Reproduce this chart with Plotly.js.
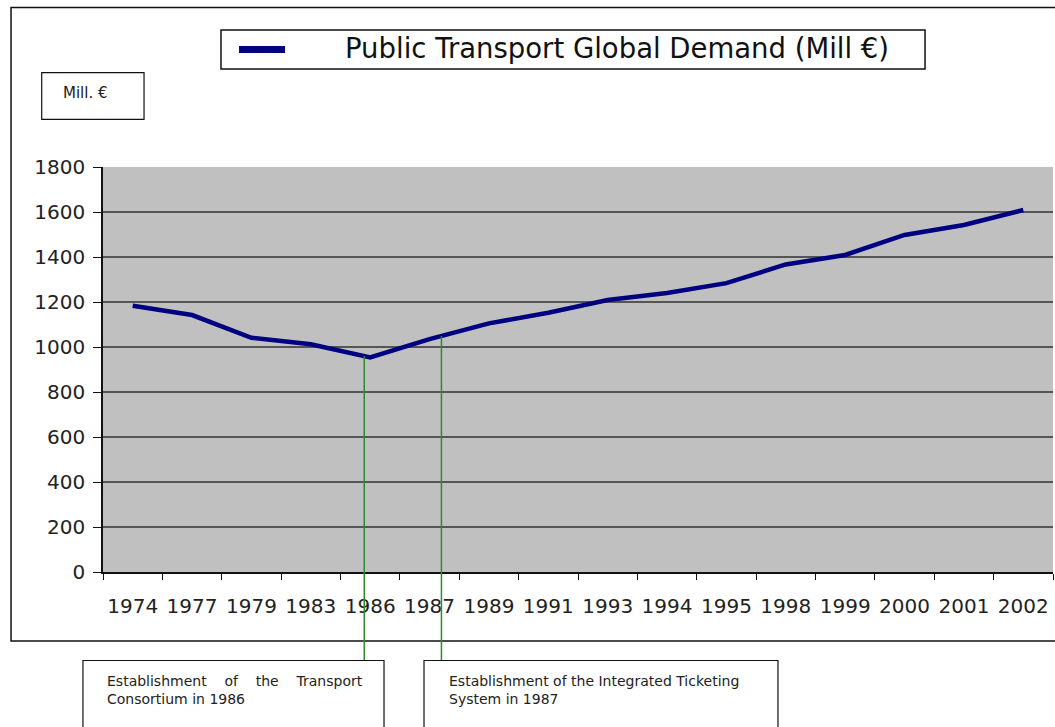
<!DOCTYPE html>
<html>
<head>
<meta charset="utf-8">
<script src="https://cdn.plot.ly/plotly-3.0.1.min.js"></script>
<style>
  html, body { margin: 0; padding: 0; background: #ffffff; }
  #chart { width: 1055px; height: 727px; }
</style>
</head>
<body>
<div id="chart"></div>
<script>
// ---- Data ----
const years = ['1974','1977','1979','1983','1986','1987','1989','1991','1993','1994','1995','1998','1999','2000','2001','2002'];
const demand = [1183, 1142, 1041, 1012, 954, 1035, 1105, 1152, 1209, 1240, 1284, 1367, 1409, 1498, 1542, 1609];
const seriesName = 'Public Transport Global Demand (Mill €)';
const yTicks = [0, 200, 400, 600, 800, 1000, 1200, 1400, 1600, 1800];
const unitLabel = 'Mill. €';
const events = [
  { year: '1986', offset: -0.1, text: 'Establishment&nbsp;&nbsp;&nbsp; of&nbsp;&nbsp;&nbsp; the&nbsp;&nbsp;&nbsp; Transport<br>Consortium in 1986' },
  { year: '1987', offset: 0.2,  text: 'Establishment of the Integrated Ticketing<br>System in 1987' }
];

const yMax = 1800;
const font = 'DejaVu Sans, Arial, sans-serif';
const lineColor = '#000080';

// value of the series at a fractional category position (to end the marker lines on the curve)
function valueAt(pos) {
  const i = Math.max(0, Math.min(years.length - 2, Math.floor(pos)));
  const f = pos - i;
  return demand[i] + (demand[i + 1] - demand[i]) * f;
}

const trace = {
  type: 'scatter',
  mode: 'lines',
  x: years,
  y: demand,
  name: seriesName,
  line: { color: lineColor, width: 4.5 },
  showlegend: false,
  hoverinfo: 'x+y'
};

const shapes = [];
const annotations = [];

// outer chart frame
shapes.push({ type: 'rect', xref: 'paper', yref: 'paper', x0: -0.0968, x1: 1.0074, y0: -0.1704, y1: 1.3938,
  line: { color: '#111111', width: 1.5 }, fillcolor: 'rgba(0,0,0,0)', layer: 'below' });

// legend box (series key)
shapes.push({ type: 'rect', xref: 'paper', yref: 'paper', x0: 0.1242, x1: 0.8653, y0: 1.2420, y1: 1.3383,
  line: { color: '#111111', width: 1.5 }, fillcolor: '#ffffff' });
shapes.push({ type: 'line', xref: 'paper', yref: 'paper', x0: 0.1432, x1: 0.1916, y0: 1.2900, y1: 1.2900,
  line: { color: lineColor, width: 7 } });
annotations.push({ xref: 'paper', yref: 'paper', x: 0.2527, y: 1.2950, xanchor: 'left', yanchor: 'middle',
  text: seriesName, showarrow: false, font: { family: font, size: 27.5, color: '#111111' } });

// unit box
shapes.push({ type: 'rect', xref: 'paper', yref: 'paper', x0: -0.0645, x1: 0.0432, y0: 1.1178, y1: 1.2328,
  line: { color: '#111111', width: 1.2 }, fillcolor: '#ffffff' });
annotations.push({ xref: 'paper', yref: 'paper', x: -0.0184, y: 1.1827, xanchor: 'center', yanchor: 'middle',
  text: unitLabel, showarrow: false, font: { family: font, size: 15, color: '#222222' } });

// event marker lines and text boxes
const boxes = [
  { x0: -0.0211, x1: 0.2958, tx: 0.0021 },
  { x0: 0.3379, x1: 0.7105, tx: 0.3621 }
];
events.forEach((ev, k) => {
  const pos = years.indexOf(ev.year) + ev.offset;
  const v = valueAt(pos);
  shapes.push({ type: 'line', xref: 'x', yref: 'paper', x0: pos, x1: pos, y0: -0.2185, y1: v / yMax,
    line: { color: '#2f8a2f', width: 1.5 }, layer: 'above' });
  const b = boxes[k];
  shapes.push({ type: 'rect', xref: 'paper', yref: 'paper', x0: b.x0, x1: b.x1, y0: -0.45, y1: -0.2185,
    line: { color: '#111111', width: 1.2 }, fillcolor: '#ffffff' });
  annotations.push({ xref: 'paper', yref: 'paper', x: b.tx, y: -0.244, xanchor: 'left', yanchor: 'top', align: 'left',
    text: ev.text, showarrow: false, font: { family: font, size: 14, color: '#222222' } });
});

const layout = {
  width: 1055,
  height: 727,
  margin: { l: 103, r: 2, t: 167, b: 155 },
  paper_bgcolor: '#ffffff',
  plot_bgcolor: '#c0c0c0',
  font: { family: font, color: '#222222' },
  showlegend: false,
  xaxis: {
    type: 'category',
    categoryorder: 'array',
    categoryarray: years,
    range: [-0.5, years.length - 0.5],
    tickson: 'boundaries',
    tickangle: 0,
    ticks: 'outside', ticklen: 6, tickwidth: 1, tickcolor: '#111111',
    showgrid: false,
    showline: true, linecolor: '#111111', linewidth: 1.5,
    tickfont: { family: font, size: 20, color: '#222222' },
    ticklabelstandoff: 15,
    zeroline: false,
    fixedrange: true
  },
  yaxis: {
    range: [0, yMax],
    tickvals: yTicks,
    ticktext: yTicks.map(String),
    ticks: 'outside', ticklen: 8, tickwidth: 1, tickcolor: '#111111',
    showgrid: true, gridcolor: '#555555', gridwidth: 1.5,
    showline: true, linecolor: '#111111', linewidth: 1.5,
    zeroline: false,
    tickfont: { family: font, size: 20, color: '#222222' },
    ticklabelstandoff: 4,
    fixedrange: true
  },
  shapes: shapes,
  annotations: annotations
};

Plotly.newPlot('chart', [trace], layout, { displayModeBar: false, responsive: false });
</script>
</body>
</html>
